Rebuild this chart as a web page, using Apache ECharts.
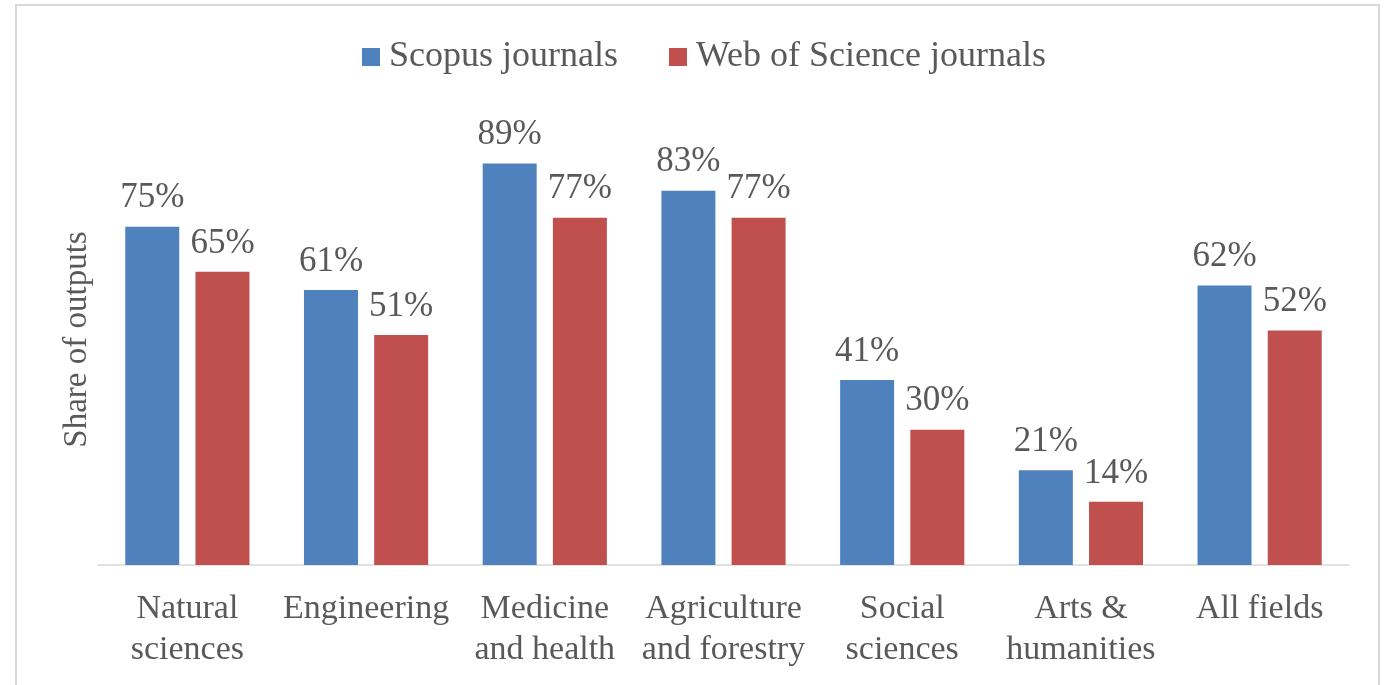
<!DOCTYPE html>
<html>
<head>
<meta charset="utf-8">
<title>Share of outputs</title>
<script src="https://cdn.jsdelivr.net/npm/echarts@6/dist/echarts.min.js"></script>
<style>
  html, body { margin: 0; padding: 0; background: #fff; }
  #main { width: 1388px; height: 685px; }
  .frame {
    position: absolute; left: 15px; top: 4px;
    width: 1361px; height: 700px;
    border: 2px solid #d9d9d9; border-bottom: none;
    pointer-events: none;
  }
</style>
</head>
<body>
<div id="main"></div>
<div class="frame"></div>
<script>
  // fields on the x axis
  var fields = ['Natural\nsciences', 'Engineering', 'Medicine\nand health', 'Agriculture\nand forestry',
    'Social\nsciences', 'Arts &\nhumanities', 'All fields']
  // share of outputs, in percent
  var scopus = [75, 61, 89, 83, 41, 21, 62]
  var wos = [65, 51, 77, 77, 30, 14, 52]

  var font = '"Liberation Serif", "Times New Roman", serif'
  var grey = '#595959'

  var label = {
    show: true,
    position: 'top',
    distance: 11,
    color: grey,
    fontFamily: font,
    fontSize: 35,
    formatter: '{c}%'
  }

  var option = {
    animation: false,
    legend: {
      top: 34,
      left: 357,
      itemWidth: 18,
      itemHeight: 18,
      itemGap: 51,
      icon: 'rect',
      textStyle: { color: grey, fontFamily: font, fontSize: 36, padding: [0, 0, 0, 4] },
      data: ['Scopus journals', 'Web of Science journals']
    },
    grid: { left: 98, right: 39, top: 114, bottom: 120 },
    xAxis: {
      type: 'category',
      data: fields,
      axisLine: { lineStyle: { color: '#d9d9d9', width: 1.5 } },
      axisTick: { show: false },
      axisLabel: { color: grey, fontFamily: font, fontSize: 34, lineHeight: 41, margin: 24, interval: 0 }
    },
    yAxis: {
      type: 'value',
      min: 0,
      max: 100,
      name: 'Share of outputs',
      nameLocation: 'middle',
      nameGap: 4,
      nameTextStyle: { color: grey, fontFamily: font, fontSize: 33 },
      axisLine: { show: false },
      axisTick: { show: false },
      axisLabel: { show: false },
      splitLine: { show: false }
    },
    series: [
      {
        name: 'Scopus journals',
        type: 'bar',
        data: scopus,
        barWidth: 54,
        barGap: '30%',
        itemStyle: { color: '#4f81bd' },
        label: label
      },
      {
        name: 'Web of Science journals',
        type: 'bar',
        data: wos,
        barWidth: 54,
        itemStyle: { color: '#c0504d' },
        label: label
      }
    ]
  }

  var chart = echarts.init(document.getElementById('main'))
  chart.setOption(option)
  window.addEventListener('resize', () => {
    chart.resize()
  })
</script>
</body>
</html>
